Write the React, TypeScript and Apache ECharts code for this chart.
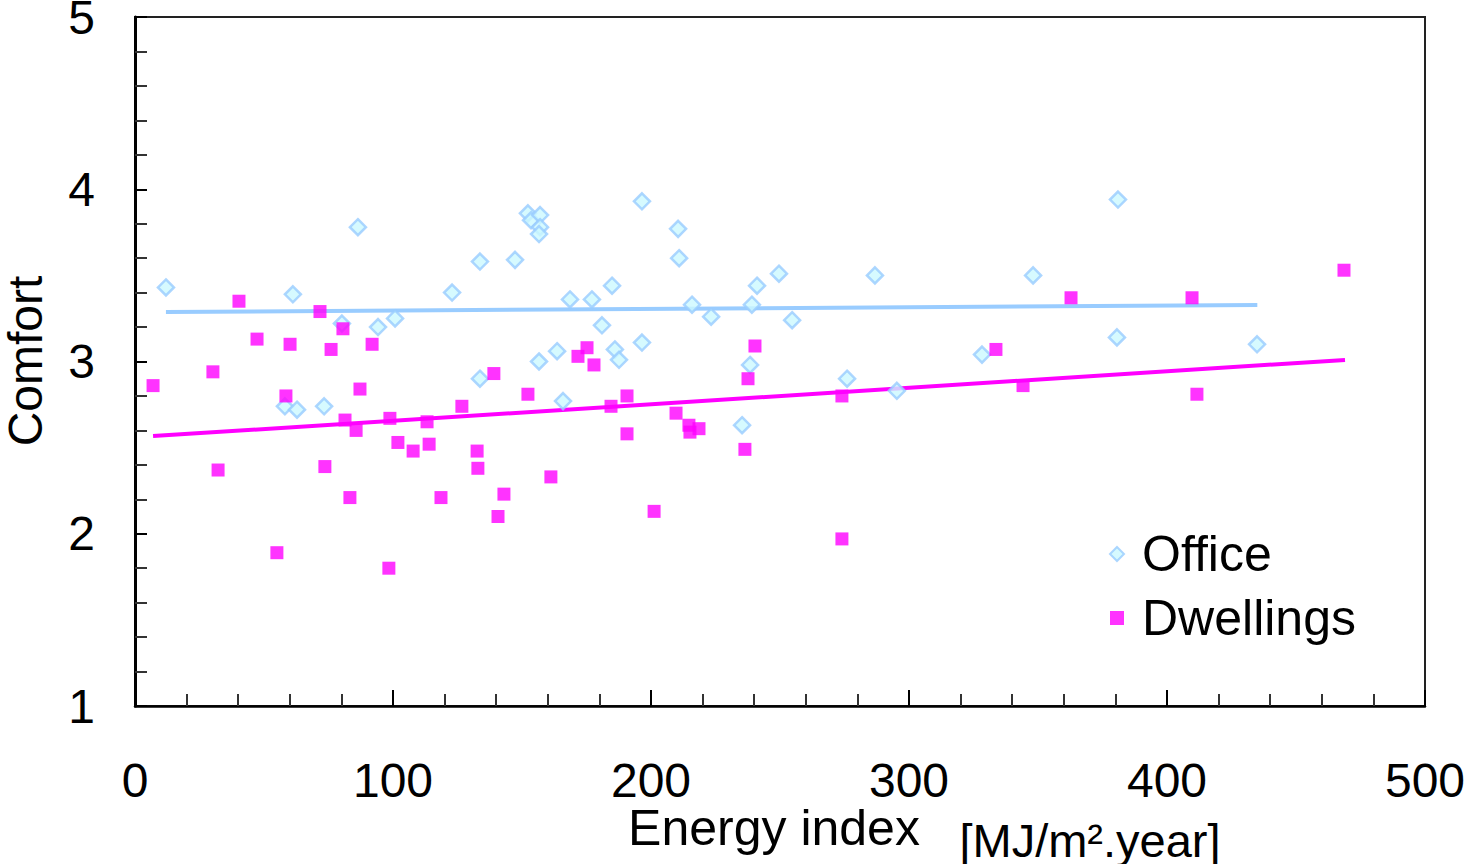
import React, { useEffect, useRef } from "react";
import * as echarts from "echarts";

// Office buildings: [energy index, comfort]
const officeData: [number, number][] = [
  [12.0, 3.43], [61.2, 3.39], [58.1, 2.74], [62.8, 2.72], [73.3, 2.74],
  [80.2, 3.22], [86.4, 3.78], [94.2, 3.20], [100.8, 3.25], [122.9, 3.40],
  [133.7, 3.58], [133.7, 2.90], [147.3, 3.59], [152.3, 3.86], [153.5, 3.82],
  [157.0, 3.85], [157.0, 3.78], [156.6, 3.74], [156.6, 3.00], [163.6, 3.06],
  [165.9, 2.77], [168.6, 3.36], [177.1, 3.36], [181.0, 3.21], [184.9, 3.44],
  [186.0, 3.07], [187.6, 3.01], [196.5, 3.93], [196.5, 3.11], [210.5, 3.77],
  [210.9, 3.60], [215.9, 3.33], [223.3, 3.26], [235.3, 2.63], [238.4, 2.98],
  [239.1, 3.33], [241.1, 3.44], [249.6, 3.51], [254.7, 3.24], [276.0, 2.90],
  [286.8, 3.50], [295.3, 2.83], [328.3, 3.04], [348.1, 3.50], [381.0, 3.94],
  [380.6, 3.14], [434.9, 3.10],
];

// Dwellings: [energy index, comfort]
const dwellingData: [number, number][] = [
  [7.0, 2.86], [30.2, 2.94], [32.2, 2.37], [40.3, 3.35], [47.3, 3.13],
  [55.0, 1.89], [58.5, 2.80], [60.1, 3.10], [71.7, 3.29], [73.6, 2.39],
  [76.0, 3.07], [80.6, 3.19], [81.4, 2.66], [83.3, 2.21], [85.7, 2.60],
  [87.2, 2.84], [91.9, 3.10], [98.4, 1.80], [98.8, 2.67], [101.9, 2.53],
  [107.8, 2.48], [113.2, 2.65], [114.0, 2.52], [118.6, 2.21], [126.7, 2.74],
  [132.6, 2.48], [132.9, 2.38], [139.1, 2.93], [140.7, 2.10], [143.0, 2.23],
  [152.3, 2.81], [161.2, 2.33], [171.7, 3.03], [175.2, 3.08], [177.9, 2.98],
  [184.5, 2.74], [190.7, 2.80], [190.7, 2.58], [201.2, 2.13], [209.7, 2.70],
  [214.7, 2.63], [215.1, 2.59], [218.6, 2.61], [236.4, 2.49], [237.6, 2.90],
  [240.3, 3.09], [274.0, 2.80], [274.0, 1.97], [333.7, 3.07], [344.2, 2.86],
  [362.8, 3.37], [409.7, 3.37], [411.6, 2.81], [468.6, 3.53],
];

// Linear trend lines (endpoints)
const officeTrend: [number, number][] = [[12, 3.287], [435, 3.328]];
const dwellingTrend: [number, number][] = [[7, 2.567], [469, 3.009]];

const xTicks = { min: 0, max: 500, interval: 100 };
const yTicks = { min: 1, max: 5, interval: 1 };

const FONT = "Liberation Sans, Arial, sans-serif";

export default function App() {
  const ref = useRef<HTMLDivElement>(null);

  useEffect(() => {
    if (!ref.current) return;
    const chart = echarts.init(ref.current, undefined, { renderer: "svg" });
    chart.setOption({
      animation: false,
      backgroundColor: "#ffffff",
      grid: {
        left: 135,
        right: 40,
        top: 17,
        bottom: 158,
        outerBoundsMode: "none",
        containLabel: false,
        show: true,
        borderColor: "#222",
        borderWidth: 2,
        backgroundColor: "transparent",
      },
      legend: {
        orient: "vertical",
        left: 1104,
        top: 524,
        itemWidth: 14,
        itemHeight: 14,
        itemGap: 14,
        data: ["Office", "Dwellings"],
        textStyle: {
          fontSize: 50,
          color: "#000",
          fontFamily: FONT,
          padding: [0, 0, 0, 13],
        },
      },
      xAxis: {
        type: "value",
        min: xTicks.min,
        max: xTicks.max,
        interval: xTicks.interval,
        axisLine: { show: true, onZero: false, lineStyle: { color: "#000", width: 2.5 } },
        axisTick: { show: true, inside: true, length: 16, lineStyle: { color: "#000", width: 2 } },
        minorTick: { show: true, splitNumber: 5, length: 12, lineStyle: { color: "#333", width: 2 } },
        splitLine: { show: false },
        axisLabel: { fontSize: 48, color: "#000", fontFamily: FONT, margin: 50 },
      },
      yAxis: {
        type: "value",
        min: yTicks.min,
        max: yTicks.max,
        interval: yTicks.interval,
        axisLine: { show: true, onZero: false, lineStyle: { color: "#000", width: 3 } },
        axisTick: { show: true, inside: true, length: 12, lineStyle: { color: "#000", width: 2 } },
        minorTick: { show: true, splitNumber: 5, length: 12, lineStyle: { color: "#333", width: 2 } },
        splitLine: { show: false },
        axisLabel: { fontSize: 48, color: "#000", fontFamily: FONT, margin: 40 },
      },
      graphic: [
        {
          type: "text",
          x: 774,
          y: 828,
          style: {
            text: "Energy index",
            fontSize: 50,
            fontFamily: FONT,
            fill: "#000",
            textAlign: "center",
            textVerticalAlign: "middle",
          },
        },
        {
          type: "text",
          x: 1090,
          y: 840,
          style: {
            text: "[MJ/m².year]",
            fontSize: 47,
            fontFamily: FONT,
            fill: "#000",
            textAlign: "center",
            textVerticalAlign: "middle",
          },
        },
        {
          type: "text",
          x: 25,
          y: 361,
          rotation: Math.PI / 2,
          style: {
            text: "Comfort",
            fontSize: 48,
            fontFamily: FONT,
            fill: "#000",
            textAlign: "center",
            textVerticalAlign: "middle",
          },
        },
      ],
      series: [
        {
          name: "OfficeTrend",
          type: "line",
          data: officeTrend,
          symbol: "none",
          lineStyle: { color: "#99ccff", width: 4 },
          z: 1,
        },
        {
          name: "DwellingTrend",
          type: "line",
          data: dwellingTrend,
          symbol: "none",
          lineStyle: { color: "#ff00ff", width: 4 },
          z: 1,
        },
        {
          name: "Office",
          type: "scatter",
          data: officeData,
          symbol: "diamond",
          symbolSize: 16,
          itemStyle: { color: "#ccf9ff", borderColor: "#99ccff", borderWidth: 2.5 },
          z: 2,
        },
        {
          name: "Dwellings",
          type: "scatter",
          data: dwellingData,
          symbol: "rect",
          symbolSize: 13,
          itemStyle: { color: "#ff00ff" },
          z: 3,
        },
      ],
    });
    return () => chart.dispose();
  }, []);

  return (
    <div
      ref={ref}
      style={{ position: "fixed", left: 0, top: 0, width: 1465, height: 864 }}
    />
  );
}
